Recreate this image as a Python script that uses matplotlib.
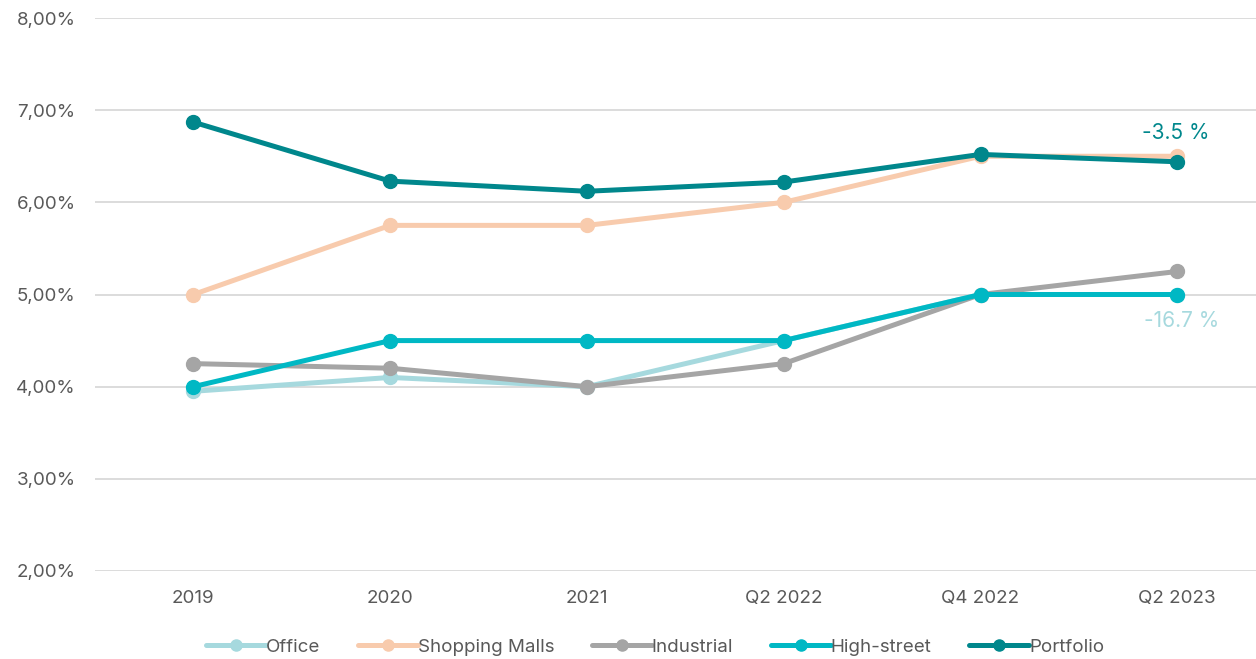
import matplotlib.pyplot as plt
import numpy as np
from matplotlib.ticker import FuncFormatter

plt.rcParams['font.family'] = ['Inter', 'DejaVu Sans']

# Yield series per segment
periods = ['2019', '2020', '2021', 'Q2 2022', 'Q4 2022', 'Q2 2023']
office = [3.95, 4.10, 4.00, 4.50, 5.00, 5.00]
shopping_malls = [5.00, 5.75, 5.75, 6.00, 6.50, 6.50]
industrial = [4.25, 4.20, 4.00, 4.25, 5.00, 5.25]
high_street = [4.00, 4.50, 4.50, 4.50, 5.00, 5.00]
portfolio = [6.87, 6.23, 6.12, 6.22, 6.52, 6.44]

series = [
    ('Office', office, '#A6D9DE'),
    ('Shopping Malls', shopping_malls, '#F8CBAD'),
    ('Industrial', industrial, '#A5A5A5'),
    ('High-street', high_street, '#00B8C4'),
    ('Portfolio', portfolio, '#00878C'),
]

fig = plt.figure(figsize=(12.56, 6.59), dpi=100)
ax = fig.add_axes([95 / 1256, 1 - 571 / 659, 1 - 95 / 1256, (571 - 18) / 659])

x = np.arange(len(periods))
for name, vals, col in series:
    ax.plot(x, vals, color=col, lw=3.6, marker='o', markersize=10,
            solid_capstyle='round', label=name)

# change labels at the last point
ax.text(x[-1] - 0.01, portfolio[-1] + 0.2, '-3.5 %', color='#00878C',
        fontsize=15, ha='center', va='bottom')
ax.text(x[-1] + 0.02, high_street[-1] - 0.18, '-16.7 %', color='#A6D9DE',
        fontsize=15, ha='center', va='top')

ax.set_xlim(-0.5, 5.4)
ax.set_ylim(2, 8)
ax.set_yticks(np.arange(2, 8.01, 1))
ax.yaxis.set_major_formatter(FuncFormatter(lambda v, p: f'{v:.2f}%'.replace('.', ',')))
ax.set_xticks(x)
ax.set_xticklabels(periods)
ax.grid(axis='y', color='#D9D9D9', lw=1.3)
ax.set_axisbelow(True)
for s in ax.spines.values():
    s.set_visible(False)
ax.tick_params(axis='both', length=0, labelsize=13.5, colors='#595959')
ax.tick_params(axis='y', pad=14)
ax.tick_params(axis='x', pad=14)

leg = fig.legend(loc='center', bbox_to_anchor=(655 / 1256, 1 - 647 / 659), ncol=5,
                 frameon=False, fontsize=13.5, handlelength=3.2, handletextpad=0.0,
                 columnspacing=2.0, markerscale=0.8)
for t in leg.get_texts():
    t.set_color('#595959')

fig.savefig('out.png', dpi=100)
